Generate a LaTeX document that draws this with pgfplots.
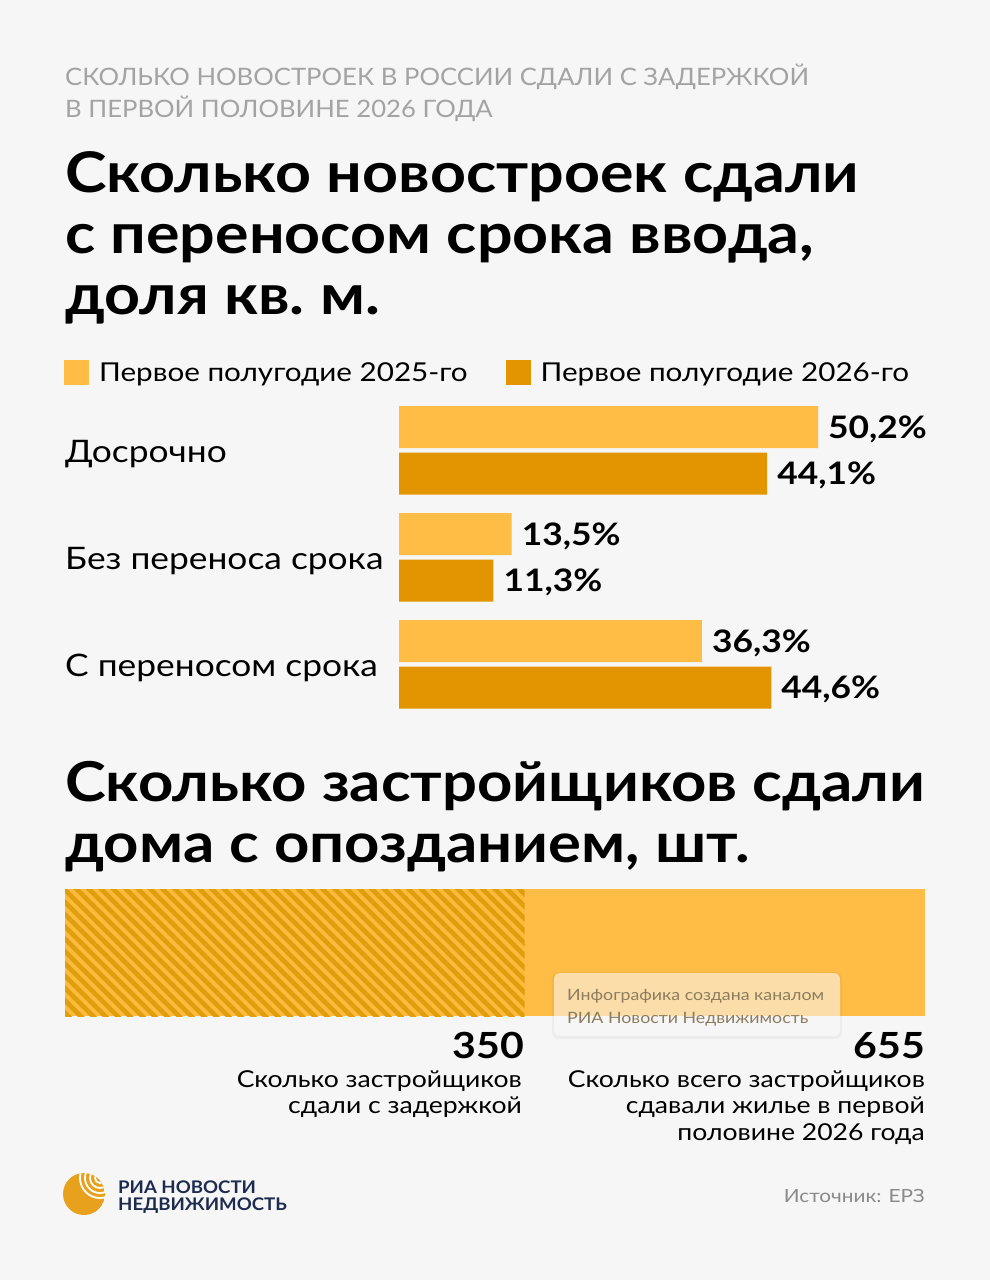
\documentclass[border=0pt]{standalone}
\usepackage{fontspec}
\setmainfont{Lato}[FakeStretch=1.14]
\newfontfamily\hdr{Lato}[FakeStretch=1.07]
\newfontfamily\ttl{Lato}[FakeStretch=1.12]
\usepackage{pgfplots}
\pgfplotsset{compat=1.18}
\usetikzlibrary{patterns.meta}
\definecolor{bg}{HTML}{F6F6F6}
\definecolor{light}{HTML}{FFBD45}
\definecolor{dark}{HTML}{E29500}
\definecolor{hl}{HTML}{FDBA3B}
\definecolor{hd}{HTML}{E09E0E}
\definecolor{graytxt}{HTML}{A3A3A3}
\definecolor{navy}{HTML}{1D2B4F}
\definecolor{wm}{HTML}{8C7D5E}
\definecolor{logo}{HTML}{E8A11C}
\newcommand{\fs}[1]{\fontsize{#1}{#1}\selectfont}
\begin{document}
\begin{tikzpicture}[x=1pt,y=1pt]
\fill[bg] (0,0) rectangle (990,-1280);
\useasboundingbox (0,0) rectangle (990,-1280);
% header
\node[anchor=base west, inner sep=0, text=graytxt, font=\hdr\fs{24}] at (65,-85) {СКОЛЬКО НОВОСТРОЕК В РОССИИ СДАЛИ С ЗАДЕРЖКОЙ};
\node[anchor=base west, inner sep=0, text=graytxt, font=\hdr\fs{24}] at (65,-117) {В ПЕРВОЙ ПОЛОВИНЕ 2026 ГОДА};
% title 1
\node[anchor=base west, inner sep=0, font=\ttl\bfseries\fs{56}] at (65,-192) {Сколько новостроек сдали};
\node[anchor=base west, inner sep=0, font=\ttl\bfseries\fs{56}] at (65,-253) {с переносом срока ввода,};
\node[anchor=base west, inner sep=0, font=\ttl\bfseries\fs{56}] at (65,-314) {доля кв.~м.};

\begin{axis}[
  at={(399pt,-715pt)}, anchor=south west,
  scale only axis, width=526pt, height=315pt,
  xbar, bar width=42pt,
  xmin=0, xmax=63.02, ymin=-0.4743, ymax=2.4696,
  axis line style={draw=none}, major tick length=0pt,
  xtick=\empty, ytick={0,1,2},
  yticklabels={С переносом срока, Без переноса срока, Досрочно},
  yticklabel style={anchor=base west, xshift=-334pt, yshift=-11.75pt, inner sep=0pt, font=\fs{31}},
  point meta=x,
  nodes near coords={\pgfmathprintnumber[fixed,fixed zerofill,precision=1,use comma,assume math mode=true]{\pgfplotspointmeta}\%},
  every node near coord/.append style={anchor=base west, inner sep=0pt, xshift=10pt, yshift=-11pt, font=\bfseries\fs{31}, text=black},
  legend columns=2,
  legend style={at={(-0.6369,1.127)}, anchor=north west, draw=none, fill=none, inner sep=0pt, font=\fs{26},
    /tikz/every odd column/.append style={column sep=8pt},
    /tikz/every even column/.append style={column sep=36pt}},
  legend image code/.code={\fill[#1] (0pt,-12.5pt) rectangle (25pt,12.5pt);},
]
\addplot[fill=light, draw=none, bar shift=23.25pt] coordinates {(50.2,2) (13.5,1) (36.3,0)};
\addlegendentry{Первое полугодие 2025-го}
\addplot[fill=dark, draw=none, bar shift=-23.25pt] coordinates {(44.1,2) (11.3,1) (44.6,0)};
\addlegendentry{Первое полугодие 2026-го}
\end{axis}

% title 2
\node[anchor=base west, inner sep=0, font=\ttl\bfseries\fs{55}] at (65,-801) {Сколько застройщиков сдали};
\node[anchor=base west, inner sep=0, font=\ttl\bfseries\fs{55}] at (65,-862) {дома с опозданием, шт.};

\begin{axis}[
  at={(65pt,-1016pt)}, anchor=south west,
  scale only axis, width=860pt, height=127pt,
  xbar, bar width=127pt, bar shift=0pt,
  xmin=0, xmax=655, ymin=-0.5, ymax=0.5,
  hide axis,
  point meta=x,
  nodes near coords={\pgfmathprintnumber[assume math mode=true]{\pgfplotspointmeta}},
  every node near coord/.append style={anchor=north east, inner sep=0pt, yshift=-79.5pt, font=\bfseries\fs{36}, text=black},
]
\addplot[fill=light, draw=none] coordinates {(655,0)};
\addplot[fill=hl, draw=none, postaction={pattern={Lines[angle=-45,distance=8.7pt,line width=4.6pt]}, pattern color=hd}] coordinates {(350,0)};
\end{axis}

% watermark
\fill[black, opacity=0.04, rounded corners=7pt] (552,-972) rectangle (842,-1039);
\fill[white, opacity=0.55, rounded corners=6pt] (554,-973) rectangle (840,-1036);
\node[anchor=base west, inner sep=0, text=wm, font=\fs{15.6}] at (567,-1000) {Инфографика создана каналом};
\node[anchor=base west, inner sep=0, text=wm, font=\fs{15.6}] at (567,-1023) {РИА Новости Недвижимость};

% descriptions
\node[anchor=base east, inner sep=0, font=\fs{23.3}] at (522,-1087) {Сколько застройщиков};
\node[anchor=base east, inner sep=0, font=\fs{23.3}] at (522,-1113) {сдали с задержкой};
\node[anchor=base east, inner sep=0, font=\fs{23.3}] at (925,-1087) {Сколько всего застройщиков};
\node[anchor=base east, inner sep=0, font=\fs{23.3}] at (925,-1113) {сдавали жилье в первой};
\node[anchor=base east, inner sep=0, font=\fs{23.3}] at (925,-1140) {половине 2026 года};

% footer logo
\begin{scope}
\clip (84,-1194) circle (21);
\fill[logo] (84,-1194) circle (21);
\foreach \r in {5,10,15,20} \draw[white, line width=1.8pt] (100,-1178) circle (\r);
\end{scope}
\node[anchor=base west, inner sep=0, text=navy, font=\hdr\bfseries\fs{17.4}] at (118,-1193) {РИА НОВОСТИ};
\node[anchor=base west, inner sep=0, text=navy, font=\hdr\bfseries\fs{17.4}] at (118,-1210) {НЕДВИЖИМОСТЬ};
\node[anchor=base east, inner sep=0, text=graytxt!85!black, font=\fs{18.2}] at (925,-1202) {Источник: ЕРЗ};
\end{tikzpicture}
\end{document}
